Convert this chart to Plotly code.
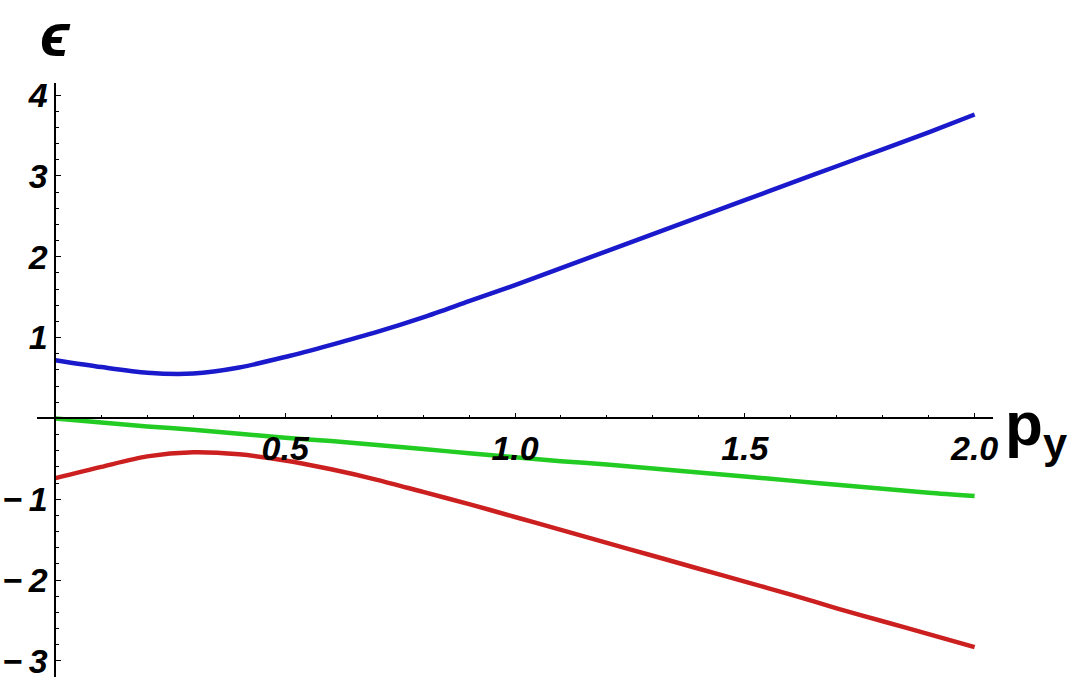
import plotly.graph_objects as go

# Data
p_y = [0.0, 0.1, 0.2, 0.3, 0.4, 0.5, 0.6, 0.7, 0.8, 0.9, 1.0,
       1.1, 1.2, 1.3, 1.4, 1.5, 1.6, 1.7, 1.8, 1.9, 2.0]
eps_upper = [0.72, 0.635, 0.565, 0.555, 0.63, 0.76, 0.91, 1.07, 1.25, 1.45, 1.65,
             1.86, 2.07, 2.28, 2.49, 2.70, 2.91, 3.12, 3.33, 3.54, 3.76]
eps_middle = [0.0, -0.05, -0.10, -0.14, -0.19, -0.24, -0.28, -0.33, -0.38, -0.43, -0.48,
              -0.53, -0.57, -0.62, -0.67, -0.72, -0.77, -0.82, -0.87, -0.92, -0.96]
eps_lower = [-0.74, -0.60, -0.47, -0.42, -0.445, -0.52, -0.63, -0.76, -0.91, -1.06, -1.22,
             -1.38, -1.54, -1.70, -1.86, -2.02, -2.18, -2.35, -2.51, -2.67, -2.83]

x_tickvals = [0.5, 1.0, 1.5, 2.0]
x_ticktext = ["0.5", "1.0", "1.5", "2.0"]
y_tickvals = [-3, -2, -1, 1, 2, 3, 4]
y_ticktext = ["−\u20093", "−\u20092", "−\u20091", "1", "2", "3", "4"]

x_range = [-0.04, 2.04]
y_range = [-3.2, 4.15]

fig = go.Figure()
for ys, col in [(eps_upper, "#1a1acc"), (eps_middle, "#22cc22"), (eps_lower, "#cc1f1f")]:
    fig.add_trace(go.Scatter(x=p_y, y=ys, mode="lines",
                             line=dict(color=col, width=4.5, shape="spline", smoothing=0.8),
                             showlegend=False, hoverinfo="skip"))

tickfont = dict(family="Liberation Sans, Arial, sans-serif", size=34, color="black",
                weight="bold", style="italic")

x_pos = (0 - y_range[0]) / (y_range[1] - y_range[0])
y_pos = (0 - x_range[0]) / (x_range[1] - x_range[0])

fig.update_layout(
    width=1072, height=685,
    margin=dict(l=37, r=79, t=83, b=8),
    paper_bgcolor="white", plot_bgcolor="white",
    xaxis=dict(range=x_range, showgrid=False, zeroline=False, automargin=False,
               showline=True, linecolor="black", linewidth=1.6,
               anchor="free", position=x_pos,
               tickmode="array", tickvals=x_tickvals, ticktext=x_ticktext,
               ticks="inside", ticklen=5, tickwidth=1.2, tickcolor="black",
               tickfont=tickfont,
               minor=dict(tickmode="linear", tick0=0, dtick=0.1, ticks="inside",
                          ticklen=3, tickwidth=1, tickcolor="black")),
    yaxis=dict(range=y_range, showgrid=False, zeroline=False, automargin=False,
               showline=True, linecolor="black", linewidth=1.6,
               anchor="free", position=y_pos,
               tickmode="array", tickvals=y_tickvals, ticktext=y_ticktext,
               ticks="inside", ticklen=5, tickwidth=1.2, tickcolor="black",
               tickfont=tickfont,
               minor=dict(tickmode="linear", tick0=0, dtick=0.2, ticks="inside",
                          ticklen=3, tickwidth=1, tickcolor="black")),
    annotations=[
        dict(text="ϵ", xref="paper", yref="paper", x=y_pos, y=1, xanchor="center",
             yanchor="bottom", yshift=12, showarrow=False,
             font=dict(family="Liberation Sans, Arial, sans-serif", size=62,
                       color="black", weight="bold", style="italic")),
        dict(text="p<sub>y</sub>", xref="paper", yref="paper", x=1, y=x_pos,
             xanchor="left", yanchor="middle", xshift=10, yshift=-10, showarrow=False,
             font=dict(family="Liberation Sans, Arial, sans-serif", size=62,
                       color="black", weight="bold")),
    ],
)

fig.write_html("out.html")
